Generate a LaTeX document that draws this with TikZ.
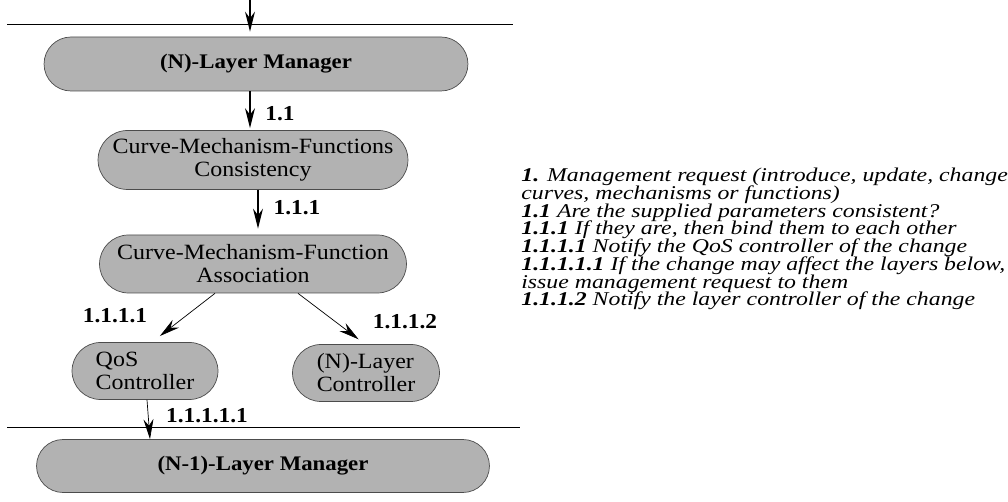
\documentclass[tikz,border=0pt]{standalone}
\usepackage{fontspec}
\setmainfont{Liberation Serif}[FakeStretch=1.1]
\newfontfamily\legendfont{Liberation Serif}[FakeStretch=1.22]
\newcommand\legendsize{\legendfont\fontsize{11.1}{10.07}\selectfont\lineskiplimit=-5pt\relax}
\usetikzlibrary{shapes.misc,arrows.meta}

\begin{document}
\begin{tikzpicture}[x=0.02cm,y=-0.02cm,
    box/.style={rounded rectangle, draw=black!70, fill=black!30, inner sep=0pt,
      font=\fontsize{12.4}{13.1}\selectfont, align=center},
    mgr/.style={box, font=\fontsize{11.8}{14}\selectfont\bfseries},
    arr/.style={-{Stealth[length=4mm,width=2mm,inset=1.3mm]}},
    lbl/.style={font=\fontsize{12.1}{14}\selectfont\bfseries}]
    \useasboundingbox (0,0) rectangle (1008,502);

    % Layer boundaries
    \draw (7,24) -- (513,24);
    \draw (7,427) -- (520,427);

    % Managers
    \node[mgr, minimum width=8.48cm, minimum height=1.08cm] (nmgr) at (256,64) {(N)-Layer Manager};
    \node[mgr, minimum width=9.06cm, minimum height=1.06cm] (lmgr) at (263,466) {(N-1)-Layer Manager};

    % Functions
    \node[box, minimum width=6.2cm, minimum height=1.18cm] (cons) at (253,160) {Curve-Mechanism-Functions\\Consistency};
    \node[box, minimum width=6.14cm, minimum height=1.16cm] (assoc) at (253,264) {Curve-Mechanism-Function\\Association};
    \node[box, align=left, minimum width=2.92cm, minimum height=1.14cm] (qos) at (145,371) {QoS\\Controller};
    \node[box, align=left, minimum width=2.94cm, minimum height=1.14cm] (nctl) at (366,373) {(N)-Layer\\Controller};

    % Requests
    \coordinate (in) at (250,0);
    \draw[arr, thick, shorten >=0.1cm] (in) -- (in |- nmgr.north);
    \draw[arr, thick, shorten >=0.04cm] (nmgr.south -| 250,0) -- (cons.north -| 250,0);
    \draw[arr, thick, shorten >=0.12cm] (cons.south -| 258,0) -- (assoc.north -| 258,0);
    \draw[arr, shorten >=0.2cm] (assoc.south -| 215,0) -- (qos.north -| 152,0);
    \draw[arr, shorten >=0.16cm] (assoc.south -| 298,0) -- (nctl.north -| 365,0);
    \draw[arr] (qos.south -| 147,0) -- (lmgr.north -| 150,0);

    \node[lbl] (l1) at (280,114) {1.1};
    \node[lbl] (l2) at (297,208) {1.1.1};
    \node[lbl] (l3) at (115,316) {1.1.1.1};
    \node[lbl] (l4) at (405,322) {1.1.1.2};
    \node[lbl] (l5) at (207,416) {1.1.1.1.1};

    % Legend
    \node[anchor=north west, align=left, inner sep=0pt, font=\legendsize\itshape] (legend) at (521,168)
      {\textbf{1.} Management request (introduce, update, change\\
       curves, mechanisms or functions)\\
       \textbf{1.1} Are the supplied parameters consistent?\\
       \textbf{1.1.1} If they are, then bind them to each other\\
       \textbf{1.1.1.1} Notify the QoS controller of the change\\
       \textbf{1.1.1.1.1} If the change may affect the layers below,\\
       issue management request to them\\
       \textbf{1.1.1.2} Notify the layer controller of the change};
\end{tikzpicture}
\end{document}
